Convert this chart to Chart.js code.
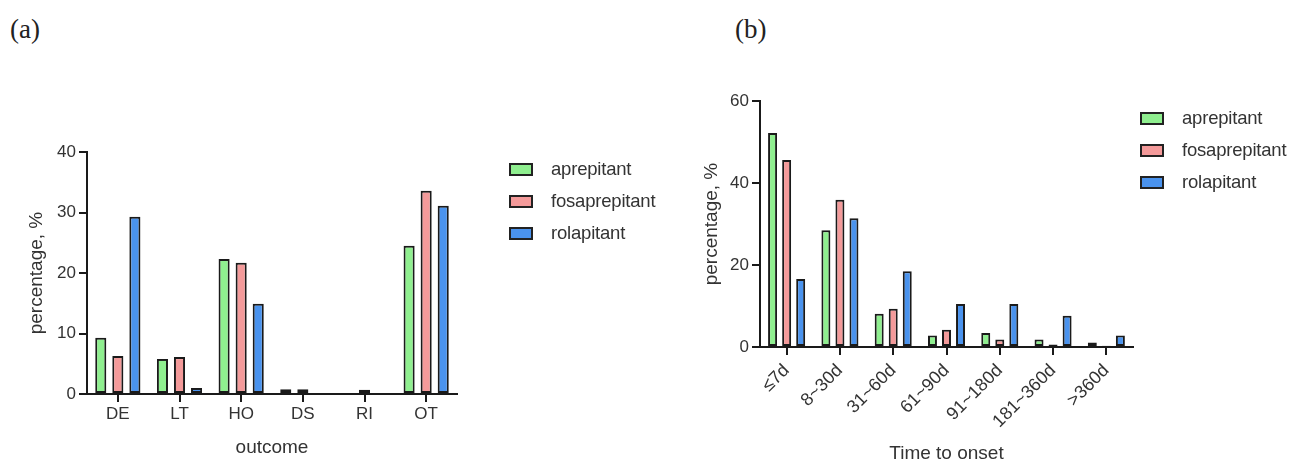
<!DOCTYPE html>
<html>
<head>
<meta charset="utf-8">
<script src="https://cdn.jsdelivr.net/npm/chart.js@4.4.1/dist/chart.umd.min.js"></script>
<style>
  body { margin: 0; background: #fff; width: 1300px; height: 465px; overflow: hidden; position: relative; font-family: "Liberation Sans", Arial, sans-serif; }
  .panel { position: absolute; top: 0; height: 465px; }
  .tag { position: absolute; top: 14px; font-family: "Liberation Serif", "Times New Roman", serif; font-size: 27px; color: #222; }
  .legend { position: absolute; font-size: 18.5px; color: #333; letter-spacing: -0.2px; }
  .legend div { height: 32px; display: flex; align-items: center; }
  .legend span.box { display: inline-block; width: 20px; height: 9px; border: 2px solid #222; margin-right: 18px; }
</style>
</head>
<body>
<div class="tag" style="left:10px">(a)</div>
<div class="tag" style="left:735px">(b)</div>
<div class="panel" style="left:0; width:480px"><canvas id="chartA"></canvas></div>
<div class="panel" style="left:650px; width:650px"><canvas id="chartB"></canvas></div>
<div class="legend" id="legendA" style="left:509px; top:153px"></div>
<div class="legend" id="legendB" style="left:1140px; top:102px"></div>
<script>
// ===== 数据 =====
const seriesNames = ['aprepitant', 'fosaprepitant', 'rolapitant'];
const seriesColors = ['#8fef8f', '#f49a9a', '#4a93ee'];

// (a) outcome
const outcomeLabels = ['DE', 'LT', 'HO', 'DS', 'RI', 'OT'];
const outcomeAprepitant = [9.3, 5.8, 22.3, 0.8, 0.1, 24.5];
const outcomeFosaprepitant = [6.3, 6.1, 21.7, 0.8, 0.7, 33.6];
const outcomeRolapitant = [29.3, 1.0, 14.9, 0, 0, 31.1];

// (b) time to onset
const onsetLabels = ['≤7d', '8~30d', '31~60d', '61~90d', '91~180d', '181~360d', '>360d'];
const onsetAprepitant = [52.2, 28.5, 8.1, 2.8, 3.4, 1.8, 1.1];
const onsetFosaprepitant = [45.6, 35.9, 9.3, 4.2, 1.8, 0.6, 0.3];
const onsetRolapitant = [16.6, 31.4, 18.5, 10.5, 10.5, 7.6, 2.8];

const FONT = '"Liberation Sans", Arial, sans-serif';
const TXT = '#333';

function $(id) { return document.getElementById(id); }

function makeDatasets(values, catPct, barPct) {
  return values.map((v, i) => ({
    label: seriesNames[i],
    data: v,
    backgroundColor: seriesColors[i],
    borderColor: '#1a1a1a',
    borderWidth: 2,
    borderSkipped: false,
    categoryPercentage: catPct,
    barPercentage: barPct
  }));
}

function makeChart(id, opt) {
  return new Chart($(id).getContext('2d'), {
    type: 'bar',
    data: { labels: opt.labels, datasets: makeDatasets(opt.values, opt.catPct, opt.barPct) },
    options: {
      responsive: true,
      maintainAspectRatio: false,
      animation: false,
      layout: { padding: opt.padding },
      plugins: { legend: { display: false }, tooltip: { enabled: false } },
      scales: {
        x: {
          grid: { display: true, offset: false, drawOnChartArea: false, color: '#1a1a1a', lineWidth: 2, tickLength: 8 },
          border: { display: true, color: '#1a1a1a', width: 2 },
          ticks: { color: TXT, font: { family: FONT, size: opt.xFont }, minRotation: opt.rot, maxRotation: opt.rot, padding: opt.xPad, autoSkip: false },
          title: { display: true, text: opt.xTitle, color: TXT, font: { family: FONT, size: 19 }, padding: { top: 4, bottom: 0 } },
          afterFit: s => { s.height = opt.xHeight; }
        },
        y: {
          min: 0, max: opt.yMax,
          grid: { display: true, drawOnChartArea: false, color: '#1a1a1a', lineWidth: 2, tickLength: 8 },
          border: { display: true, color: '#1a1a1a', width: 2 },
          ticks: { stepSize: opt.yStep, color: TXT, font: { family: FONT, size: 17 }, padding: 3 },
          title: { display: true, text: 'percentage, %', color: TXT, font: { family: FONT, size: 19 }, padding: { top: 0, bottom: 0 } },
          afterFit: s => { s.width = opt.yWidth; }
        }
      }
    }
  });
}

function buildLegend(id) {
  const el = $(id);
  seriesNames.forEach((n, i) => {
    const row = document.createElement('div');
    row.innerHTML = `<span class="box" style="background:${seriesColors[i]}"></span>${n}`;
    el.appendChild(row);
  });
}

makeChart('chartA', {
  labels: outcomeLabels,
  values: [outcomeAprepitant, outcomeFosaprepitant, outcomeRolapitant],
  catPct: 0.83, barPct: 0.65,
  yMax: 40, yStep: 10, rot: 0, xFont: 17, xPad: 2,
  xTitle: 'outcome',
  padding: { top: 152, left: 25, right: 23, bottom: 6 },
  yWidth: 62, xHeight: 65
});

makeChart('chartB', {
  labels: onsetLabels,
  values: [onsetAprepitant, onsetFosaprepitant, onsetRolapitant],
  catPct: 0.79, barPct: 0.64,
  yMax: 60, yStep: 20, rot: 45, xFont: 18, xPad: 5,
  xTitle: 'Time to onset',
  padding: { top: 101, left: 50, right: 167, bottom: 0 },
  yWidth: 60, xHeight: 118
});

buildLegend('legendA');
buildLegend('legendB');
</script>
</body>
</html>
